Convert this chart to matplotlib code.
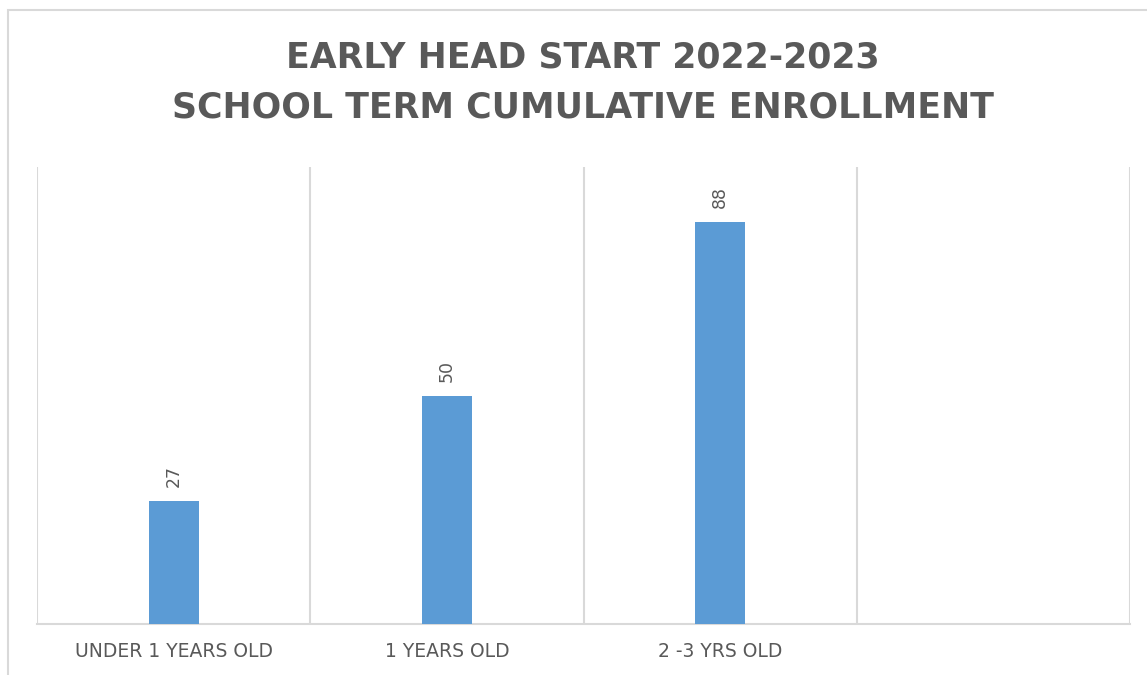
import matplotlib
matplotlib.use("Agg")
import matplotlib.pyplot as plt
from matplotlib.patches import Rectangle

# ── Data ───────────────────────────────────────────────────────────────────────
categories = ["UNDER 1 YEARS OLD", "1 YEARS OLD", "2 -3 YRS OLD", ""]
enrollment = [27, 50, 88]
title_lines = ["EARLY HEAD START 2022-2023", "SCHOOL TERM CUMULATIVE ENROLLMENT"]

BAR_COLOR = "#5b9bd5"
TEXT_COLOR = "#595959"
GRID_COLOR = "#d9d9d9"

W, H = 1147, 675
fig = plt.figure(figsize=(W / 100, H / 100), dpi=100)

# outer chart border (runs off the right/bottom edge in the reference)
fig.patches.append(Rectangle((8 / W, -0.05), 1.1, 1 - 10 / H + 0.05,
                             transform=fig.transFigure, fill=False,
                             edgecolor=GRID_COLOR, linewidth=1.5))

ax = fig.add_axes([37 / W, 1 - 624 / H, (1130 - 37) / W, (624 - 167) / H])

idx = list(range(len(enrollment)))
bars = ax.bar(idx, enrollment, width=0.183, color=BAR_COLOR, zorder=3)

for bar, val in zip(bars, enrollment):
    ax.annotate(f"{val}", (bar.get_x() + bar.get_width() / 2, bar.get_height()),
                xytext=(0, 10), textcoords="offset points",
                ha="center", va="bottom", rotation=90,
                fontsize=12.5, color=TEXT_COLOR)

ax.set_xlim(-0.5, len(categories) - 0.5)
ax.set_ylim(0, 100)

# category separators
for b in range(len(categories) + 1):
    ax.axvline(b - 0.5, color=GRID_COLOR, linewidth=1.5, zorder=1)

ax.set_xticks(range(len(categories)))
ax.set_xticklabels(categories, fontsize=13.5, color=TEXT_COLOR)
ax.tick_params(axis="x", length=0, pad=13)
ax.set_yticks([])
for side in ["top", "left", "right"]:
    ax.spines[side].set_visible(False)
ax.spines["bottom"].set_color(GRID_COLOR)
ax.spines["bottom"].set_linewidth(1.5)

fig.text(583 / W, 1 - 58 / H, title_lines[0], ha="center", va="center",
         fontsize=25, fontweight="bold", color=TEXT_COLOR)
fig.text(583 / W, 1 - 108 / H, title_lines[1], ha="center", va="center",
         fontsize=25, fontweight="bold", color=TEXT_COLOR)

fig.savefig("out.png", dpi=100)
